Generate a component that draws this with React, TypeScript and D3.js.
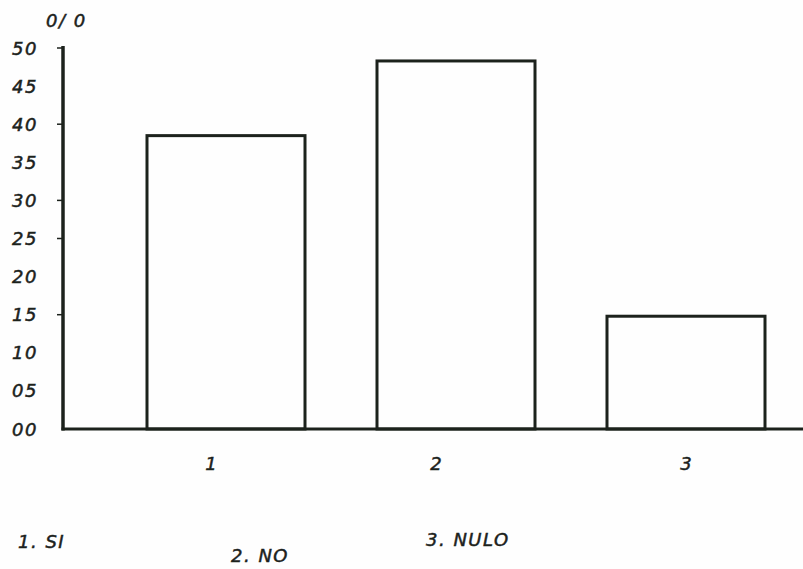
import React from "react";
import * as d3 from "d3";

const categories = ["1", "2", "3"];
const values = [38.5, 48.3, 14.8];
const yTickLabels = ["00", "05", "10", "15", "20", "25", "30", "35", "40", "45", "50"];
const yTickValues = [0, 5, 10, 15, 20, 25, 30, 35, 40, 45, 50];
const tickMarkValues = [50, 40, 30, 25, 15];
const legendItems = ["1. SI", "2. NO", "3. NULO"];
const yTitle = "0/ 0";

const W = 803;
const H = 569;
const INK = "#1c221c";
const FONT = "'DejaVu Sans', sans-serif";

const labelOffsets = [-15, -20, 0];

export default function App() {
  const y = d3.scaleLinear().domain([0, 50]).range([429, 48]);
  const x = d3
    .scaleBand<string>()
    .domain(categories)
    .range([101, 811])
    .paddingInner(0.313)
    .paddingOuter(0.2);
  const axisX = 63;
  const legendPos = [
    { x: 18, y: 548 },
    { x: 231, y: 562 },
    { x: 426, y: 546 },
  ];
  const textProps = {
    fontFamily: FONT,
    fontStyle: "italic",
    fontSize: 18,
    fill: INK,
    stroke: INK,
    strokeWidth: 0.5,
  } as const;
  return (
    <svg
      width={W}
      height={H}
      style={{ position: "absolute", left: 0, top: 0, background: "#fff" }}
    >
      <rect x={0} y={0} width={W} height={H} fill="#fefefe" />
      {/* y title */}
      <text x={46} y={27} letterSpacing={1.5} {...textProps}>
        {yTitle}
      </text>
      {/* y tick labels */}
      {yTickValues.map((v, i) => (
        <text
          key={v}
          x={38}
          y={y(v) + 6.5}
          textAnchor="end"
          letterSpacing={1.5}
          {...textProps}
        >
          {yTickLabels[i]}
        </text>
      ))}
      {/* small tick marks */}
      {tickMarkValues.map((v) => (
        <line
          key={v}
          x1={axisX - 6}
          x2={axisX}
          y1={y(v)}
          y2={y(v)}
          stroke={INK}
          strokeWidth={1.5}
        />
      ))}
      {/* bars */}
      {categories.map((c, i) => (
        <rect
          key={c}
          x={x(c)}
          y={y(values[i])}
          width={x.bandwidth()}
          height={y(0) - y(values[i])}
          fill="none"
          stroke={INK}
          strokeWidth={3}
        />
      ))}
      {/* axes */}
      <line x1={axisX} x2={axisX} y1={46} y2={y(0) + 1.5} stroke={INK} strokeWidth={3.5} />
      <line x1={axisX - 1.5} x2={W} y1={y(0)} y2={y(0)} stroke={INK} strokeWidth={3} />
      {/* x labels */}
      {categories.map((c, i) => (
        <text
          key={c}
          x={(x(c) as number) + x.bandwidth() / 2 + labelOffsets[i]}
          y={470}
          textAnchor="middle"
          {...textProps}
        >
          {c}
        </text>
      ))}
      {/* legend */}
      {legendItems.map((t, i) => (
        <text
          key={t}
          x={legendPos[i].x}
          y={legendPos[i].y}
          letterSpacing={1.5}
          {...textProps}
        >
          {t}
        </text>
      ))}
    </svg>
  );
}
